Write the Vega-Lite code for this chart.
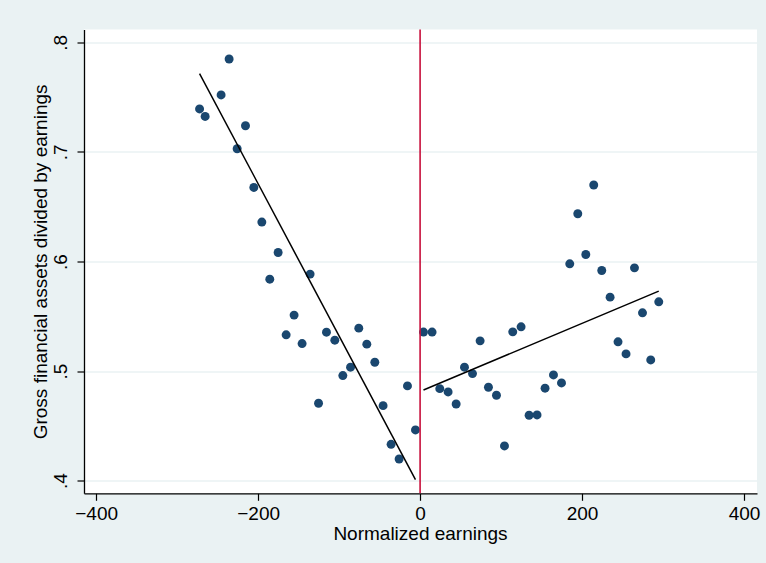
{
  "$schema": "https://vega.github.io/schema/vega-lite/v6.json",
  "width": 673,
  "height": 463.8,
  "autosize": "none",
  "padding": {"left": 84, "top": 29.5, "right": 9, "bottom": 69.7},
  "background": "#EAF2F3",
  "config": {
    "view": {"fill": "white", "stroke": null},
    "font": "Liberation Sans",
    "axis": {
      "labelFont": "Liberation Sans",
      "titleFont": "Liberation Sans",
      "labelFontSize": 19,
      "titleFontSize": 19,
      "labelColor": "black",
      "titleColor": "black",
      "titleFontWeight": "normal",
      "domainColor": "black",
      "domainWidth": 1.3,
      "tickColor": "black",
      "tickWidth": 1.2,
      "tickSize": 7
    }
  },
  "datasets": {
    "pts": [
      {"x": -272.3, "y": 0.7392}, {"x": -265.4, "y": 0.7324}, {"x": -245.7, "y": 0.752}, {"x": -235.8, "y": 0.7848},
      {"x": -225.9, "y": 0.7029}, {"x": -215.6, "y": 0.7239}, {"x": -205.3, "y": 0.6676}, {"x": -195.4, "y": 0.636},
      {"x": -185.6, "y": 0.5839}, {"x": -175.3, "y": 0.6082}, {"x": -165.4, "y": 0.5331}, {"x": -155.6, "y": 0.5511},
      {"x": -145.7, "y": 0.5251}, {"x": -135.8, "y": 0.5885}, {"x": -125.4, "y": 0.4707}, {"x": -115.6, "y": 0.5355},
      {"x": -105.3, "y": 0.5282}, {"x": -95.4, "y": 0.4959}, {"x": -85.9, "y": 0.5036}, {"x": -75.7, "y": 0.5392},
      {"x": -65.8, "y": 0.5246}, {"x": -55.9, "y": 0.5081}, {"x": -45.7, "y": 0.4685}, {"x": -35.8, "y": 0.4332},
      {"x": -25.9, "y": 0.4198}, {"x": -15.6, "y": 0.4865}, {"x": -5.7, "y": 0.4463},
      {"x": 4.2, "y": 0.5356}, {"x": 14.8, "y": 0.5356}, {"x": 24.3, "y": 0.484}, {"x": 34.6, "y": 0.481},
      {"x": 44.5, "y": 0.47}, {"x": 54.8, "y": 0.5036}, {"x": 64.7, "y": 0.4977}, {"x": 74.1, "y": 0.5276},
      {"x": 84.4, "y": 0.4853}, {"x": 94.3, "y": 0.478}, {"x": 104.2, "y": 0.4317}, {"x": 114.4, "y": 0.5358},
      {"x": 124.7, "y": 0.5404}, {"x": 134.6, "y": 0.4597}, {"x": 144.4, "y": 0.46}, {"x": 154.3, "y": 0.4844},
      {"x": 164.7, "y": 0.4965}, {"x": 174.6, "y": 0.4892}, {"x": 184.8, "y": 0.5979}, {"x": 194.7, "y": 0.6436},
      {"x": 204.6, "y": 0.6064}, {"x": 214.4, "y": 0.6698}, {"x": 224.3, "y": 0.5918}, {"x": 234.6, "y": 0.5675},
      {"x": 244.4, "y": 0.5267}, {"x": 254.3, "y": 0.5157}, {"x": 264.7, "y": 0.5942}, {"x": 274.6, "y": 0.5532},
      {"x": 284.8, "y": 0.5102}, {"x": 294.7, "y": 0.5632}
    ],
    "fit": [
      {"x": -272.3, "y": 0.7714, "side": "left"}, {"x": -5.7, "y": 0.401, "side": "left"},
      {"x": 4.2, "y": 0.4828, "side": "right"}, {"x": 294.7, "y": 0.573, "side": "right"}
    ]
  },
  "encoding": {
    "x": {
      "field": "x", "type": "quantitative",
      "scale": {"domain": [-415, 416], "nice": false, "zero": false},
      "axis": {
        "title": "Normalized earnings",
        "values": [-400, -200, 0, 200, 400],
        "grid": false,
        "labelBaseline": "alphabetic",
        "labelPadding": 19,
        "titleBaseline": "alphabetic",
        "titleX": 336,
        "titleY": 46,
        "titleAlign": "center",
        "labelFlush": false
      }
    },
    "y": {
      "field": "y", "type": "quantitative",
      "scale": {"domain": [0.3885, 0.8117], "nice": false, "zero": false},
      "axis": {
        "title": "Gross financial assets divided by earnings",
        "values": [0.4, 0.5, 0.6, 0.7, 0.8],
        "labelExpr": "replace(format(datum.value, '.1f'), '0.', '.')",
        "grid": true,
        "gridColor": "#EAF2F3",
        "gridWidth": 1.5,
        "labelAngle": -90,
        "labelAlign": "center",
        "labelBaseline": "alphabetic",
        "labelPadding": 11,
        "titleAngle": -90,
        "titleAlign": "center",
        "titleBaseline": "alphabetic",
        "titleX": -38,
        "titleY": 231.9,
        "labelFlush": false
      }
    }
  },
  "layer": [
    {
      "data": {"name": "pts"},
      "mark": {"type": "circle", "size": 80, "color": "#1A476F", "opacity": 1}
    },
    {
      "data": {"name": "fit"},
      "mark": {"type": "line", "color": "black", "strokeWidth": 1.5},
      "encoding": {"detail": {"field": "side"}}
    },
    {
      "data": {"values": [{"x": 0}]},
      "mark": {"type": "rule", "color": "#C8103C", "strokeWidth": 1.6},
      "encoding": {"y": null}
    }
  ]
}
